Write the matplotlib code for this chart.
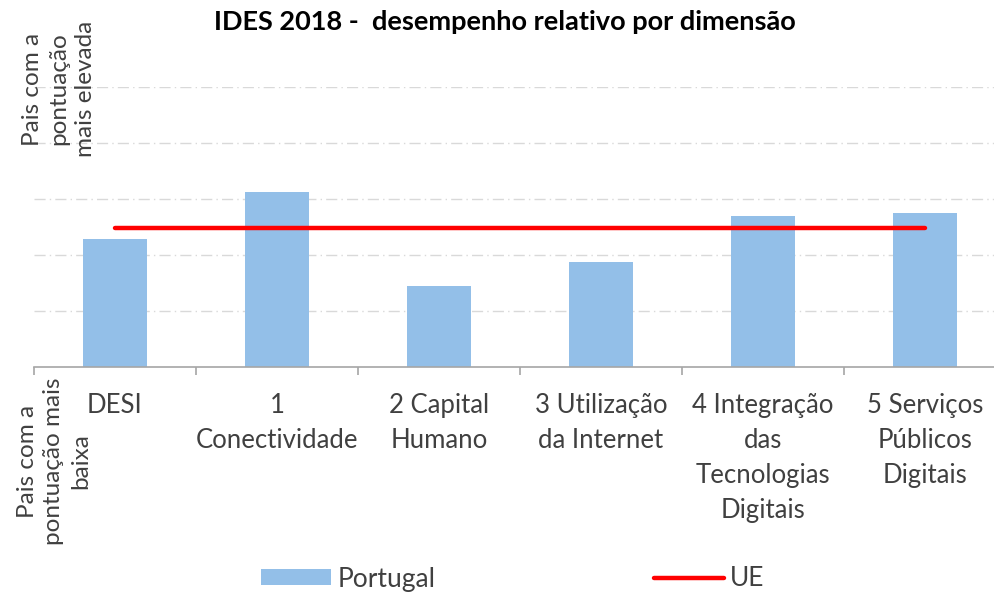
import matplotlib
matplotlib.use("Agg")
import matplotlib.pyplot as plt
import numpy as np

plt.rcParams["font.family"] = ["Lato", "DejaVu Sans"]

# dados (escala relativa: 0 = país com pontuação mais baixa)
categorias = ["DESI", "1\nConectividade", "2 Capital\nHumano",
              "3 Utilização\nda Internet", "4 Integração\ndas\nTecnologias\nDigitais",
              "5 Serviços\nPúblicos\nDigitais"]
portugal = [2.29, 3.13, 1.45, 1.87, 2.70, 2.75]
ue = [2.48, 2.48, 2.48, 2.48, 2.48, 2.48]

W, H = 994, 592
fig = plt.figure(figsize=(W / 100, H / 100), dpi=100)
ax = fig.add_axes([34 / W, 1 - 367 / H, 972 / W, 280 / H])

x = np.arange(len(categorias))
barras = ax.bar(x, portugal, width=0.40, color="#93BFE8", label="Portugal", zorder=2)
linha, = ax.plot(x, ue, color="#FF0000", linewidth=3.2, solid_capstyle="round", label="UE", zorder=3)

ax.set_xlim(-0.5, len(categorias) - 0.5)
ax.set_ylim(0, 5)
ax.set_yticks([1, 2, 3, 4, 5])
ax.tick_params(axis="y", left=False, labelleft=False)
ax.yaxis.grid(True, color="#D9D9D9", linestyle=(0, (8, 3, 1, 3)), linewidth=1, zorder=0)
ax.set_axisbelow(True)

for s in ["top", "right", "left"]:
    ax.spines[s].set_visible(False)
ax.spines["bottom"].set_color("#A6A6A6")
ax.spines["bottom"].set_linewidth(1.2)

ax.set_xticks(x)
ax.set_xticklabels(categorias, fontsize=18.5, color="#404040", linespacing=1.5)
ax.set_xticks(np.arange(-0.5, len(categorias), 1), minor=True)
ax.tick_params(axis="x", which="major", length=0, pad=19)
ax.tick_params(axis="x", which="minor", length=6, color="#A6A6A6", width=1.2)

fig.text(505 / W, 1 - 22 / H, "IDES 2018 -  desempenho relativo por dimensão",
         ha="center", va="center", fontsize=19.5, fontweight="bold", color="#000000")

fig.text(59 / W, 1 - 89 / H, "Pais com a\npontuação\nmais elevada", rotation=90,
         ha="center", va="center", multialignment="center", fontsize=17.5,
         color="#404040", linespacing=1.35)
fig.text(54 / W, 1 - 461 / H, "Pais com a\npontuação mais\nbaixa", rotation=90,
         ha="center", va="center", multialignment="center", fontsize=17.5,
         color="#404040", linespacing=1.35)

fig.legend([barras, linha], ["Portugal", "UE"], loc="center",
           bbox_to_anchor=(513 / W, 1 - 579 / H), ncol=2, frameon=False,
           fontsize=19, handlelength=2.65, handleheight=0.53, columnspacing=8.25,
           handletextpad=0.25, labelcolor="#404040")

fig.savefig("out.png", dpi=100)
